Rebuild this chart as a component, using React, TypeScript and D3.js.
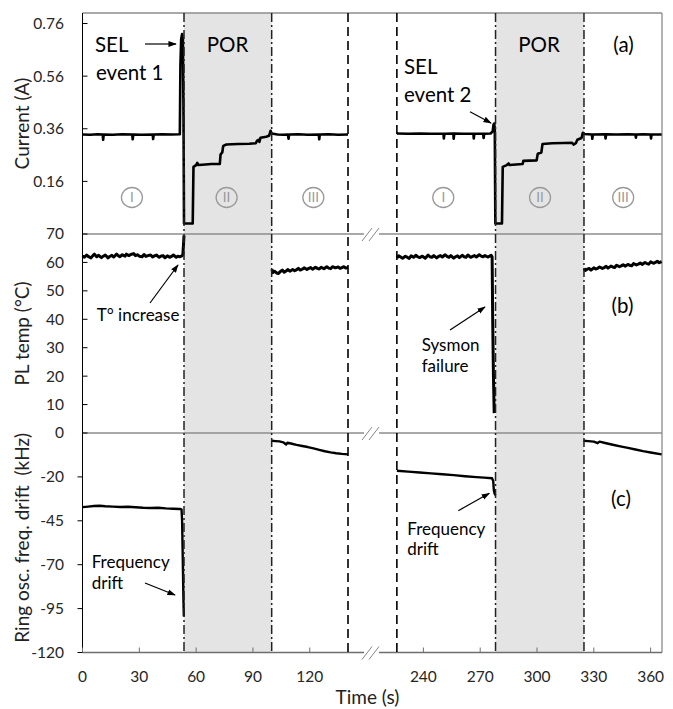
import React from 'react';
import * as d3 from 'd3';

type Pt = [number, number];

// ---------- data (time in s, value) ----------
const currentLeft: Pt[] = [
  [0, 0.338], [4, 0.337], [8, 0.339], [10.7, 0.338], [10.9, 0.318], [11.2, 0.338], [16, 0.337], [21, 0.339],
  [26.3, 0.338], [26.5, 0.32], [26.8, 0.338], [31, 0.337], [37.1, 0.338], [37.3, 0.321], [37.6, 0.338],
  [42, 0.339], [47, 0.338], [51.4, 0.339], [51.7, 0.6], [52.1, 0.7], [52.6, 0.72], [53.0, 0.7], [53.3, 0.45],
  [53.6, 0.0], [58.2, 0.0], [58.6, 0.215], [60, 0.222], [60.6, 0.23], [61.2, 0.222], [65, 0.224], [68, 0.226],
  [72.5, 0.226], [72.9, 0.262], [73.8, 0.27], [74.3, 0.295], [76, 0.3], [82, 0.302], [88, 0.303], [91.5, 0.305],
  [92.2, 0.315], [93, 0.318], [93.4, 0.31], [94, 0.326], [97, 0.33], [98.5, 0.333], [99.3, 0.352], [99.9, 0.342],
  [103, 0.338], [106, 0.337], [108.5, 0.338], [108.8, 0.322], [109.1, 0.338], [114, 0.339], [119, 0.337],
  [124.8, 0.338], [125, 0.32], [125.3, 0.338], [130, 0.339], [135, 0.337], [140.2, 0.338],
];
const currentRight: Pt[] = [
  [226, 0.342], [232, 0.341], [238, 0.342], [244, 0.341], [250.6, 0.341], [250.8, 0.323], [251.1, 0.341],
  [255.8, 0.342], [256, 0.322], [256.3, 0.342], [261, 0.341], [266.4, 0.341], [266.6, 0.323], [266.9, 0.341],
  [271.6, 0.341], [271.8, 0.325], [272.1, 0.341], [275.5, 0.342], [276.6, 0.35], [277.0, 0.375], [277.4, 0.38],
  [277.7, 0.36], [278.0, 0.0], [281.5, 0.0], [281.9, 0.215], [284, 0.222], [285, 0.228], [285.5, 0.222],
  [289, 0.224], [292.4, 0.226], [292.8, 0.238], [299.8, 0.24], [300.4, 0.265], [302.3, 0.27], [302.9, 0.302],
  [308, 0.305], [314, 0.306], [318.5, 0.307], [319.3, 0.3], [320.5, 0.305], [321.3, 0.318], [323.5, 0.325],
  [324.2, 0.345], [325, 0.34], [329, 0.338], [329.2, 0.322], [329.5, 0.338], [336, 0.339], [336.2, 0.323],
  [336.5, 0.339], [342, 0.338], [348, 0.339], [352, 0.338], [352.2, 0.326], [352.5, 0.338], [356, 0.339],
  [360, 0.338], [360.2, 0.323], [360.5, 0.338], [365.8, 0.338],
];

const tempLeftA: Pt[] = [
  [0, 62.3], [1, 61.8], [2.2, 62.6], [3, 62.1], [4.5, 61.6], [5.5, 62.4], [6.3, 62.9], [7.5, 62.0], [8.4, 62.5],
  [10, 61.7], [11, 62.2], [12, 62.6], [13.5, 61.6], [14.2, 62.0], [15.5, 62.5], [16.5, 61.9], [18, 62.9],
  [19, 62.3], [19.8, 62.0], [21, 62.7], [22.5, 62.2], [23.2, 62.9], [24.5, 62.4], [25.5, 62.8], [27, 63.1],
  [28, 62.4], [29, 62.7], [30, 62.2], [31.5, 62.0], [32.5, 62.8], [33.5, 62.1], [34.5, 62.4], [36, 62.6],
  [37, 61.9], [38, 62.3], [39, 62.6], [40.5, 61.8], [41.3, 62.2], [42.5, 62.4], [43.5, 61.7], [45, 62.3],
  [46, 61.8], [47, 62.1], [48, 62.6], [49.5, 61.8], [50.3, 62.2], [51.5, 62.0], [52.5, 62.3], [53, 62.8],
  [53.3, 66], [53.6, 69.5],
];
const tempLeftB: Pt[] = [
  [100, 57.6], [100.5, 56.4], [101.5, 56.9], [102.5, 56.3], [103.5, 56.1], [104.5, 56.8], [105.5, 57.3],
  [106.5, 56.6], [107.5, 57.0], [108.5, 57.5], [109.5, 56.9], [111, 57.5], [112, 57.1], [113, 57.4],
  [114, 57.9], [115, 57.3], [116, 57.6], [117, 58.1], [118.5, 57.5], [119.5, 57.9], [120.5, 58.2],
  [121.5, 57.6], [123, 58.3], [124, 57.9], [125, 57.7], [126, 58.3], [127.5, 57.8], [129, 58.5], [130, 58.0],
  [131, 57.8], [132, 58.5], [133.5, 58.1], [135, 58.4], [136, 57.9], [137, 58.2], [138, 58.5], [139, 58.0], [140.2, 58.2],
];
const tempRightA: Pt[] = [
  [226, 61.6], [227, 62.3], [228, 61.9], [229, 61.5], [230.5, 62.2], [231.5, 61.8], [232.5, 61.4], [233.5, 62.3],
  [235, 61.8], [236, 62.5], [237, 62.0], [238, 61.7], [239.5, 62.2], [241, 61.5], [242.5, 62.6], [243.5, 62.0],
  [244.5, 61.8], [245.5, 62.4], [247, 61.6], [248, 62.1], [249, 62.4], [250, 61.9], [251.5, 62.7], [252.5, 62.1],
  [253.5, 61.8], [254.5, 62.4], [256, 61.5], [257, 62.0], [258, 62.3], [259, 61.7], [260.5, 62.5], [261.5, 62.0],
  [262.5, 61.8], [263.5, 62.6], [265, 61.8], [266, 62.1], [267, 62.4], [268, 61.9], [269.5, 62.7], [270.5, 62.2],
  [271.5, 62.0], [272.5, 62.4], [274, 61.9], [275, 62.2], [275.8, 62.5], [276.3, 62.0], [276.6, 40], [277.0, 20], [277.4, 7],
];
const tempRightB: Pt[] = [
  [324.8, 57.9], [325.5, 57.2], [326.5, 57.6], [327.5, 57.9], [328.5, 57.3], [330, 58.1], [331, 57.7],
  [332, 57.9], [333, 58.4], [334.5, 57.9], [335.5, 58.2], [336.5, 58.6], [337.5, 58.0], [339, 58.7],
  [340, 58.4], [341, 58.2], [342, 59.0], [343.5, 58.5], [344.5, 58.8], [345.5, 59.2], [346.5, 58.7],
  [348, 59.3], [349, 59.0], [350, 58.8], [351, 59.6], [352.5, 59.1], [353.5, 59.4], [354.5, 59.8],
  [355.5, 59.3], [357, 60.0], [358, 59.6], [359, 59.4], [360, 60.2], [361.5, 59.7], [362.5, 60.0],
  [363.5, 60.4], [364.5, 59.9], [365.8, 60.3],
];

const freqLeftA: Pt[] = [
  [0, -37.2], [3, -36.9], [6, -36.6], [9, -36.4], [12, -36.7], [16, -36.9], [20, -37.1], [24, -37.0],
  [28, -37.3], [32, -37.6], [36, -37.7], [40, -37.6], [44, -37.9], [48, -38.1], [51.5, -38.3], [52.3, -38.5],
  [52.6, -45], [53, -70], [53.3, -90], [53.5, -99.5],
];
const freqLeftB: Pt[] = [
  [99.9, 0.6], [102, 0.4], [104, 0.2], [106, -0.3], [107.5, -1.5], [108.2, -0.5], [110, -1.0], [113, -1.8],
  [116, -2.4], [119, -3.0], [122, -3.8], [125, -4.6], [128, -5.4], [131, -6.0], [134, -6.5], [137, -6.9], [140.2, -7.2],
];
const freqRightA: Pt[] = [
  [226, -16.5], [232, -17.0], [238, -17.5], [244, -18.0], [250, -18.5], [256, -19.0], [262, -19.6], [268, -20.1],
  [272, -20.4], [276.3, -20.8], [276.9, -22.5], [277.2, -27.5], [277.6, -29.5], [278, -30.5],
];
const freqRightB: Pt[] = [
  [324.6, 0.6], [327, 0.4], [330, 0.1], [332, -0.8], [333, 0.1], [336, -0.7], [340, -1.7], [344, -2.6],
  [348, -3.5], [352, -4.4], [356, -5.3], [360, -6.1], [365.8, -7.2],
];

const xTickValues = [0, 30, 60, 90, 120, 240, 270, 300, 330, 360];
const currentTicks = [0.16, 0.36, 0.56, 0.76];
const tempTicks = [0, 10, 20, 30, 40, 50, 60, 70];
const freqTicks = [-120, -95, -70, -45, -20];
const porWindows: Pt[] = [[53.6, 99.9], [278.1, 324.8]];
const breakEdges = [140.2, 226];
const phaseMarks: { t: number; label: string }[] = [
  { t: 26.1, label: 'I' }, { t: 76.1, label: 'II' }, { t: 121.9, label: 'III' },
  { t: 250.5, label: 'I' }, { t: 301.6, label: 'II' }, { t: 345.5, label: 'III' },
];

// ---------- layout ----------
const W = 673, H = 709;
const L = 82.5, R = 662;
const TOP = 13, SEP1 = 234, SEP2 = 433, BOT = 652.5;
const FONT = "Lato, 'Open Sans', sans-serif";
const GAP = 60; // seconds removed from the time axis between segments

const xBase = d3.scaleLinear().domain([0, 306]).range([L, R]);
const x = (t: number) => xBase(t >= 183 ? t - GAP : t);
const yA = d3.scaleLinear().domain([-0.04, 0.8]).range([SEP1, TOP]);
const yB = d3.scaleLinear().domain([0, 70]).range([SEP2, SEP1]);
const yC = d3.scaleLinear().domain([-120, 5]).range([BOT, SEP2]);

const mk = (y: d3.ScaleLinear<number, number>) =>
  d3.line<Pt>().x((d) => x(d[0])).y((d) => y(d[1]));

const lineA = mk(yA), lineB = mk(yB), lineC = mk(yC);

function Arrow({ x1, y1, x2, y2 }: { x1: number; y1: number; x2: number; y2: number }) {
  return <line x1={x1} y1={y1} x2={x2} y2={y2} stroke="#000" strokeWidth={1.2} markerEnd="url(#ah)" />;
}

function BreakMark({ y }: { y: number }) {
  const cx = 371;
  return (
    <g>
      <rect x={364} y={y - 2} width={15} height={4} fill="#fff" />
      <line x1={cx - 9} y1={y + 7} x2={cx + 1} y2={y - 6} stroke="#888" strokeWidth={1} />
      <line x1={cx - 2} y1={y + 7} x2={cx + 8} y2={y - 6} stroke="#888" strokeWidth={1} />
    </g>
  );
}

export default function App() {
  const frame = '#8c8c8c';
  const tickCol = '#262626';
  return (
    <svg width={W} height={H} style={{ position: 'absolute', left: 0, top: 0, background: '#fff' }} fontFamily={FONT}>
      <defs>
        <marker id="ah" viewBox="0 0 10 10" refX="9" refY="5" markerWidth="7" markerHeight="7" orient="auto">
          <path d="M0,1.5 L10,5 L0,8.5 z" fill="#000" />
        </marker>
      </defs>

      {/* POR shading */}
      {porWindows.map(([a, b], i) => (
        <rect key={i} x={x(a)} y={TOP} width={x(b) - x(a)} height={BOT - TOP} fill="#e4e4e4" />
      ))}

      {/* frame */}
      <line x1={L} y1={TOP} x2={R} y2={TOP} stroke={frame} strokeWidth={1.3} />
      <line x1={R} y1={TOP} x2={R} y2={BOT} stroke={frame} strokeWidth={1.3} />
      <line x1={L} y1={SEP1} x2={R} y2={SEP1} stroke={frame} strokeWidth={1.3} />
      <line x1={L} y1={SEP2} x2={R} y2={SEP2} stroke={frame} strokeWidth={1.3} />
      <line x1={L} y1={BOT} x2={R} y2={BOT} stroke="#6e6e6e" strokeWidth={1.3} />
      <line x1={L} y1={TOP} x2={L} y2={BOT} stroke="#000" strokeWidth={1} />

      {/* y ticks */}
      {currentTicks.map((v) => (
        <g key={'a' + v}>
          <line x1={L} x2={L + 5} y1={yA(v)} y2={yA(v)} stroke="#000" />
          <text x={64} y={yA(v)} dy="0.35em" textAnchor="end" fontSize={15.5} fill={tickCol}>{v.toFixed(2)}</text>
        </g>
      ))}
      {tempTicks.map((v) => (
        <g key={'b' + v}>
          <line x1={L} x2={L + 5} y1={yB(v)} y2={yB(v)} stroke="#000" />
          <text x={64} y={yB(v)} dy="0.35em" textAnchor="end" fontSize={15.5} fill={tickCol}>{v}</text>
        </g>
      ))}
      {freqTicks.map((v) => (
        <g key={'c' + v}>
          <line x1={L - 5} x2={L} y1={yC(v)} y2={yC(v)} stroke="#000" />
          <text x={64} y={yC(v)} dy="0.35em" textAnchor="end" fontSize={15.5} fill={tickCol}>{v}</text>
        </g>
      ))}

      {/* x ticks */}
      {xTickValues.map((t) => (
        <g key={'x' + t}>
          <line x1={x(t)} x2={x(t)} y1={BOT} y2={BOT - 5} stroke="#6e6e6e" />
          <text x={x(t)} y={682} textAnchor="middle" fontSize={15.5} fill={tickCol}>{t}</text>
        </g>
      ))}

      {/* data */}
      <g fill="none" stroke="#000" strokeLinejoin="round">
        {[currentLeft, currentRight].map((d, i) => <path key={'ca' + i} d={lineA(d) || ''} strokeWidth={2.6} />)}
        {[tempLeftA, tempLeftB, tempRightA, tempRightB].map((d, i) => <path key={'tb' + i} d={lineB(d) || ''} strokeWidth={3} />)}
        {[freqLeftA, freqLeftB, freqRightA, freqRightB].map((d, i) => <path key={'fc' + i} d={lineC(d) || ''} strokeWidth={2.4} />)}
      </g>

      {/* vertical markers */}
      {porWindows.flat().map((t, i) => (
        <line key={'p' + i} x1={x(t)} x2={x(t)} y1={TOP} y2={BOT} stroke="#222" strokeWidth={1.5} strokeDasharray="9,3,2,3" />
      ))}
      {breakEdges.map((t, i) => (
        <line key={'b' + i} x1={x(t)} x2={x(t)} y1={TOP} y2={BOT} stroke="#000" strokeWidth={1.6} strokeDasharray="9,5" />
      ))}

      {/* axis breaks */}
      <BreakMark y={SEP1} />
      <BreakMark y={SEP2} />
      <BreakMark y={BOT} />

      {/* phase circles */}
      {phaseMarks.map((p, i) => (
        <g key={'ph' + i}>
          <ellipse cx={x(p.t)} cy={197.5} rx={10.5} ry={10} fill="none" stroke="#9a9a9a" strokeWidth={1.3} />
          <text x={x(p.t)} y={197.5} dy="0.36em" textAnchor="middle" fontSize={13.5} fill="#9a9a9a">{p.label}</text>
        </g>
      ))}

      {/* annotations */}
      <g fill="#000">
        <text x={95} y={52} fontSize={20.5}>SEL</text>
        <text x={96} y={80} fontSize={20.5}>event 1</text>
        <text x={227.5} y={52} fontSize={20.5} textAnchor="middle">POR</text>
        <text x={539} y={52} fontSize={20.5} textAnchor="middle">POR</text>
        <text x={623.5} y={52} fontSize={20.5} textAnchor="middle">(a)</text>
        <text x={404} y={74} fontSize={20.5}>SEL</text>
        <text x={404} y={101.5} fontSize={20.5}>event 2</text>
        <text x={622.5} y={313} fontSize={20.5} textAnchor="middle">(b)</text>
        <text x={621} y={506} fontSize={20.5} textAnchor="middle">(c)</text>
        <text x={96.7} y={321} fontSize={17}>T° increase</text>
        <text x={421.7} y={350.5} fontSize={17}>Sysmon</text>
        <text x={421.7} y={371.7} fontSize={17}>failure</text>
        <text x={91.7} y={568} fontSize={17}>Frequency</text>
        <text x={91.7} y={588.5} fontSize={17}>drift</text>
        <text x={407.3} y={535} fontSize={17}>Frequency</text>
        <text x={407.3} y={555} fontSize={17}>drift</text>
      </g>
      <Arrow x1={145} y1={44} x2={176} y2={44} />
      <Arrow x1={470} y1={111.7} x2={491} y2={123} />
      <Arrow x1={150} y1={303} x2={178} y2={265} />
      <Arrow x1={450} y1={330} x2={485} y2={307} />
      <Arrow x1={145} y1={583} x2={175} y2={595} />
      <Arrow x1={458.3} y1={510.7} x2={489.3} y2={493.3} />

      {/* axis titles */}
      <text transform={`translate(29,${(TOP + SEP1) / 2}) rotate(-90)`} textAnchor="middle" fontSize={19} fill="#222">Current (A)</text>
      <text transform={`translate(29,${(SEP1 + SEP2) / 2}) rotate(-90)`} textAnchor="middle" fontSize={19} fill="#222">PL temp (°C)</text>
      <text transform={`translate(29,${(SEP2 + BOT) / 2 - 5}) rotate(-90)`} textAnchor="middle" fontSize={19} fill="#222" style={{ whiteSpace: 'pre' }}>{'Ring osc. freq. drift  (kHz)'}</text>
      <text x={367.5} y={704} textAnchor="middle" fontSize={19} fill="#222">Time (s)</text>
    </svg>
  );
}
